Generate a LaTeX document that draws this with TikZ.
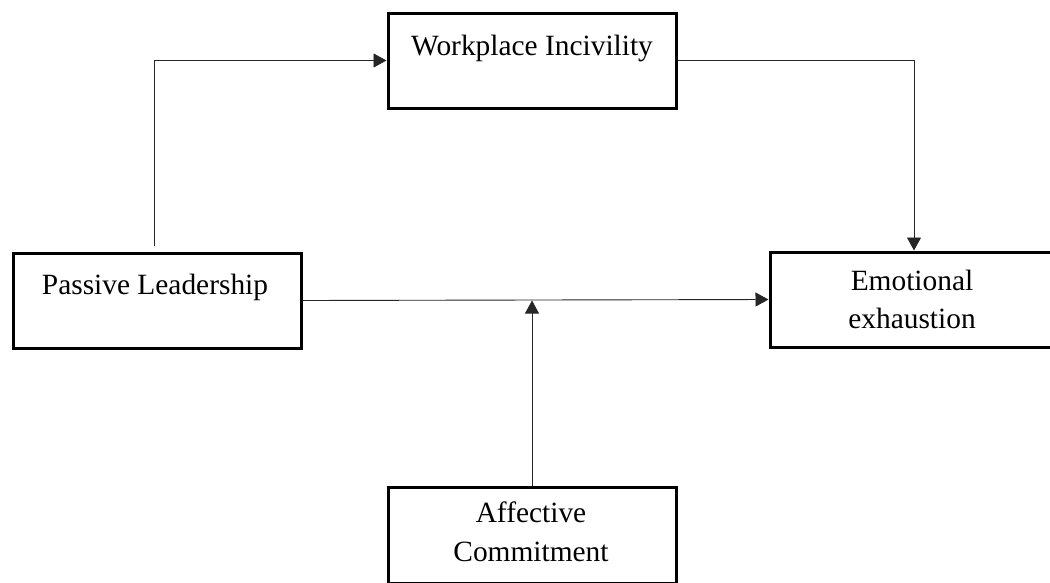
\documentclass[tikz,border=0pt]{standalone}
\usepackage{fontspec}
\setmainfont{Liberation Serif}
\usetikzlibrary{arrows.meta}
\begin{document}
\begin{tikzpicture}[x=1pt,y=-1pt,
  box/.style={draw=black, line width=3pt, fill=white, minimum width=288pt, minimum height=95pt, inner sep=0pt},
  txt/.style={anchor=base, inner sep=0pt, font=\fontsize{29.4}{36}\selectfont},
  conn/.style={draw=black!85, line width=0.9pt, -{Triangle[length=13pt,width=14pt]}}]
\useasboundingbox (0,0) rectangle (1050,582);
% boxes
\node[box] (wi) at (532,60.5) {};
\node[box] (pl) at (157,300.5) {};
\node[box] (ee) at (914,299.5) {};
\node[box, minimum height=96pt] (ac) at (532,535) {};
% texts
\node[txt] (wit) at (532,55) {Workplace Incivility};
\node[txt] (plt) at (155,294) {Passive Leadership};
\node[txt] (eet1) at (912,290) {Emotional};
\node[txt] (eet2) at (912,328) {exhaustion};
\node[txt] (act1) at (531,522) {Affective};
\node[txt] (act2) at (531,561) {Commitment};
% connectors
\coordinate (p1) at (154,246);
\draw[conn] (p1) |- (wi.west);
\draw[conn] (wi.east) -| (ee.north);
\draw[conn] (pl.east) -- (ee.west);
\draw[conn] (ac.north) -- (ac.north |- pl.east);
\end{tikzpicture}
\end{document}
